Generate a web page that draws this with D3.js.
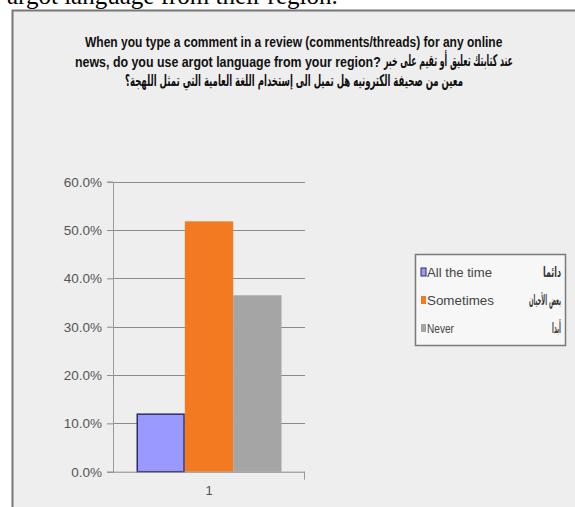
<!DOCTYPE html>
<html>
<head>
<meta charset="utf-8">
<script src="https://cdn.jsdelivr.net/npm/d3@7"></script>
<style>
  html, body { margin: 0; padding: 0; background: #ffffff; }
  svg { display: block; }
</style>
</head>
<body>
<svg id="chart" width="575" height="507"></svg>
<script>
// ---- data ----
const categories = ["1"];
const seriesNames = ["All the time", "Sometimes", "Never"];
const seriesArabic = ["دائما", "بعض الأحيان", "أبدا"];
const seriesValues = [0.119, 0.518, 0.365];
const yTicks = [0, 0.1, 0.2, 0.3, 0.4, 0.5, 0.6];
const titleLines = [
  "When you type a comment in a review (comments/threads) for any online",
  "news, do you use argot language from your region?",
  "عند كتابتك تعليق أو تقيم على خبر",
  "معين من صحيفة الكترونيه هل تميل الى إستخدام اللغة العامية التي تمثل اللهجة؟"
];
const captionText = "argot language from their region.";

// ---- styles ----
const colors = ["#9999ff", "#f47a22", "#a5a5a5"];
const tf = "Liberation Sans, Arial, DejaVu Sans, sans-serif";

const svg = d3.select("#chart");

// caption cut off at top
svg.append("text")
  .attr("x", 7).attr("y", 4)
  .attr("font-family", "Liberation Serif, Times New Roman, serif")
  .attr("font-size", 25)
  .attr("fill", "#000")
  .text(captionText);

// chart frame
svg.append("rect")
  .attr("x", 12.5).attr("y", 10.5)
  .attr("width", 600).attr("height", 520)
  .attr("fill", "#eeeeee")
  .attr("stroke", "#777")
  .attr("stroke-width", 2);

// helper: horizontally scale a text to a target width (measured)
function fitText(parent, txt, x, y, width, anchor, attrs) {
  const g = parent.append("g");
  const t = g.append("text").attr("x", 0).attr("y", 0).text(txt);
  Object.entries(attrs).forEach(([k, v]) => t.attr(k, v));
  const w = t.node().getComputedTextLength();
  const s = width / w;
  const left = anchor === "end" ? x - width : anchor === "middle" ? x - width / 2 : x;
  g.attr("transform", `translate(${left},${y}) scale(${s},1)`);
  return t;
}

const titleAttrs = { "font-family": tf, "font-weight": "bold", "font-size": 15, "fill": "#111" };
fitText(svg, titleLines[0], 85, 47, 418, "start", titleAttrs);
fitText(svg, titleLines[1], 75, 67, 306, "start", titleAttrs);
const arAttrs = { "font-family": "DejaVu Sans, sans-serif", "font-weight": "bold", "font-size": 16, "fill": "#111" };
fitText(svg, titleLines[2], 384, 66, 129, "start", arAttrs);
fitText(svg, titleLines[3], 125, 86, 338, "start", arAttrs);

// scales
const x0 = d3.scaleBand().domain(categories).range([113, 305]).paddingInner(0).paddingOuter(0.162);
const x1 = d3.scaleBand().domain(seriesNames).range([0, x0.bandwidth()]).padding(0);
const y = d3.scaleLinear().domain([0, 0.6]).range([471.7, 181.7]);

// gridlines
svg.append("g").selectAll("line").data(yTicks.slice(1)).join("line")
  .attr("x1", 113).attr("x2", 305)
  .attr("y1", d => Math.round(y(d)) + 0.5).attr("y2", d => Math.round(y(d)) + 0.5)
  .attr("stroke", "#8a8a8a").attr("stroke-width", 1);

// bars
const data = seriesNames.map((s, i) => ({ s, v: seriesValues[i], i }));
svg.append("g").selectAll("rect").data(data).join("rect")
  .attr("x", d => x0("1") + x1(d.s) + (d.i === 0 ? 0.75 : 0))
  .attr("y", d => y(d.v))
  .attr("width", d => x1.bandwidth() - (d.i === 0 ? 1.5 : 0))
  .attr("height", d => y(0) - y(d.v))
  .attr("fill", d => colors[d.i])
  .attr("stroke", d => d.i === 0 ? "#2e2e66" : "none")
  .attr("stroke-width", 1.5);

// y axis
const yAxis = d3.axisLeft(y).tickValues(yTicks).tickFormat(d3.format(".1%")).tickSize(6).tickPadding(5);
const ga = svg.append("g").attr("transform", "translate(113,0)").call(yAxis);
ga.select(".domain").attr("stroke", "#9a9a9a");
ga.selectAll(".tick line").attr("stroke", "#8a8a8a");
ga.selectAll(".tick text")
  .attr("font-family", tf).attr("font-size", 13.5).attr("fill", "#555");

// x axis
const xAxis = d3.axisBottom(x0).tickSize(0).tickPadding(14);
const gx = svg.append("g").attr("transform", `translate(0,${y(0)})`).call(xAxis);
gx.select(".domain").remove();
gx.append("line").attr("x1", 113).attr("x2", 305).attr("y1", 0.5).attr("y2", 0.5).attr("stroke", "#8a8a8a");
gx.append("line").attr("x1", 304.5).attr("x2", 304.5).attr("y1", 0).attr("y2", 8).attr("stroke", "#9a9a9a");
gx.selectAll(".tick text").attr("font-family", tf).attr("font-size", 13).attr("fill", "#555");

// legend
const lg = svg.append("g");
lg.append("rect").attr("x", 415.5).attr("y", 254.5).attr("width", 150).attr("height", 91)
  .attr("fill", "#f7f7f7").attr("stroke", "#7a7a7a").attr("stroke-width", 1.5);
const ly = d3.scaleBand().domain(seriesNames).range([258, 342]);
const enWidths = [65, 67, 27];
const arWidths = [18, 32, 9];
data.forEach(d => {
  const cy = ly(d.s) + ly.bandwidth() / 2;
  lg.append("rect").attr("x", 421).attr("y", cy - 4).attr("width", 5).attr("height", 8)
    .attr("fill", colors[d.i]).attr("stroke", d.i === 0 ? "#2e2e66" : "none").attr("stroke-width", 1);
  fitText(lg, d.s, 427, cy + 4.5, enWidths[d.i], "start",
    { "font-family": tf, "font-size": 12.5, "fill": "#444" });
  fitText(lg, seriesArabic[d.i], 561, cy + 4.5, arWidths[d.i], "end",
    { "font-family": "DejaVu Sans, sans-serif", "font-size": 14, "font-weight": "bold", "fill": "#333" });
});
</script>
</body>
</html>
